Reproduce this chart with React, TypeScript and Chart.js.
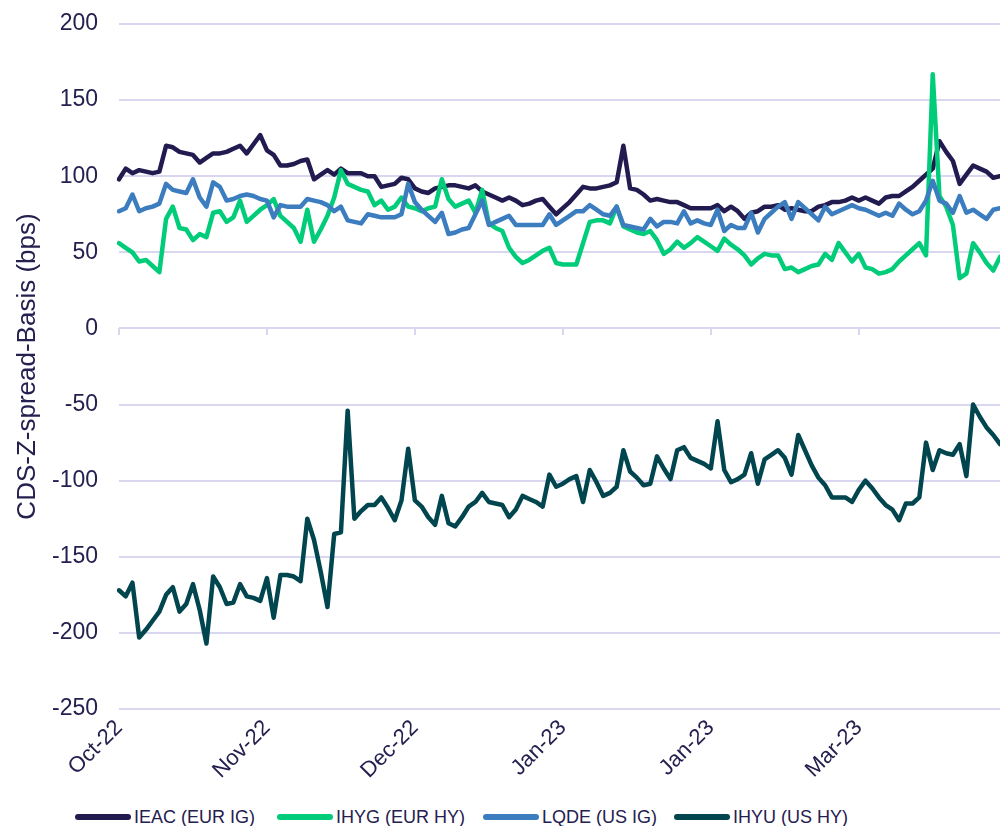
import React, { useEffect, useRef } from "react";
import { Chart, registerables } from "chart.js";

Chart.register(...registerables);

const tickLabels = ["Oct-22", "Nov-22", "Dec-22", "Jan-23", "Jan-23", "Mar-23"];
const tickEvery = 22;

const seriesNames = ["IEAC (EUR IG)", "IHYG (EUR HY)", "LQDE (US IG)", "IHYU (US HY)"];
const seriesColors = ["#211B50", "#00CC7A", "#3C7DC0", "#01454E"];

const ieac = [
  98, 105, 102, 104, 103, 102, 103, 120, 119, 116,
  115, 114, 109, 112, 115, 115, 116, 118, 120, 115,
  121, 127, 117, 114, 107, 107, 108, 110, 111, 98,
  101, 104, 101, 105, 102, 102, 102, 100, 100, 93,
  94, 95, 99, 98, 92, 90, 89, 92, 93, 94,
  94, 93, 92, 94, 90, 88, 86, 84, 86, 84,
  81, 82, 84, 85, 80, 75, 79, 83, 88, 93,
  92, 92, 93, 94, 96, 120, 92, 91, 88, 84,
  85, 84, 83, 83, 81, 79, 79, 79, 79, 81,
  77, 80, 77, 72, 76, 77, 80, 80, 81, 78,
  79, 78, 77, 77, 80, 81, 83, 83, 84, 86,
  84, 86, 84, 82, 86, 87, 87, 90, 93, 97,
  101, 105, 123, 116, 110, 95, 101, 107, 105, 103,
  99, 100,
];

const ihyg = [
  56, 53, 50, 44, 45, 41, 37, 72, 80, 66,
  65, 58, 62, 60, 76, 77, 70, 73, 84, 70,
  74, 78, 81, 85, 74, 70, 66, 57, 78, 57,
  65, 74, 86, 104, 95, 93, 91, 90, 81, 84,
  78, 80, 86, 80, 79, 77, 79, 80, 98, 85,
  80, 82, 84, 76, 91, 69, 66, 64, 53, 47,
  43, 45, 48, 51, 53, 43, 42, 42, 42, 56,
  70, 71, 71, 69, 80, 67, 65, 63, 62, 64,
  58, 49, 52, 57, 53, 56, 60, 57, 54, 51,
  59, 55, 52, 48, 42, 46, 49, 48, 48, 39,
  40, 37, 39, 41, 42, 49, 45, 56, 50, 44,
  49, 40, 39, 36, 37, 39, 44, 48, 52, 56,
  48, 167, 87, 80, 68, 33, 36, 56, 50, 43,
  38, 47,
];

const lqde = [
  77, 79, 88, 77, 79, 80, 82, 95, 91, 90,
  89, 98, 86, 80, 96, 93, 84, 85, 87, 88,
  87, 85, 84, 73, 81, 80, 80, 80, 85, 84,
  83, 81, 77, 80, 71, 70, 69, 75, 74, 73,
  73, 73, 75, 95, 83, 78, 74, 70, 76, 62,
  63, 65, 66, 75, 84, 68, 70, 72, 74, 68,
  68, 68, 68, 68, 75, 68, 71, 74, 77, 77,
  81, 78, 75, 74, 80, 68, 67, 66, 65, 72,
  67, 70, 70, 69, 77, 69, 71, 69, 68, 78,
  64, 68, 66, 66, 76, 63, 72, 76, 80, 83,
  72, 83, 79, 75, 71, 80, 75, 77, 79, 81,
  79, 78, 76, 74, 76, 74, 82, 78, 75, 77,
  84, 97, 84, 82, 76, 87, 76, 78, 75, 72,
  78, 79,
];

const ihyu = [
  -172, -176, -167, -203, -198, -192, -186, -175, -170, -186,
  -181, -168, -185, -207, -163, -170, -181, -180, -168, -176,
  -177, -179, -164, -190, -162, -162, -163, -166, -125, -139,
  -160, -183, -135, -134, -54, -125, -120, -116, -116, -111,
  -118, -126, -113, -79, -113, -117, -124, -129, -110, -128,
  -130, -124, -117, -114, -108, -114, -115, -116, -124, -119,
  -110, -112, -114, -117, -96, -104, -102, -99, -97, -114,
  -93, -101, -110, -108, -104, -80, -94, -98, -103, -102,
  -84, -92, -99, -80, -78, -85, -87, -89, -92, -61,
  -93, -101, -99, -96, -82, -102, -86, -83, -80, -85,
  -96, -70, -80, -90, -98, -103, -111, -111, -111, -114,
  -106, -100, -105, -111, -116, -119, -126, -115, -115, -111,
  -75, -93, -80, -82, -83, -76, -97, -50, -58, -65,
  -70, -76,
];

const seriesValues = [ieac, ihyg, lqde, ihyu];

const yMin = -250;
const yMax = 200;
const yStep = 50;

const TEXT = "#24204F";
const GRID = "#D9D6F0";
const FONT = "'Liberation Sans', Arial, Helvetica, sans-serif";

export default function App() {
  const ref = useRef<HTMLCanvasElement | null>(null);

  useEffect(() => {
    document.body.style.margin = "0";
    const canvas = ref.current;
    if (!canvas) return;
    const labels = ieac.map((_, i) =>
      i % tickEvery === 0 && tickLabels[i / tickEvery] ? tickLabels[i / tickEvery] : ""
    );
    const chart = new Chart(canvas, {
      type: "line",
      data: {
        labels,
        datasets: seriesValues.map((vals, k) => ({
          label: seriesNames[k],
          data: vals,
          borderColor: seriesColors[k],
          backgroundColor: seriesColors[k],
          borderWidth: 4.5,
          pointRadius: 0,
          tension: 0,
          borderJoinStyle: "round" as const,
          borderCapStyle: "round" as const,
          order: 4 - k,
        })),
      },
      options: {
        animation: false,
        responsive: false,
        maintainAspectRatio: false,
        layout: { padding: { top: 24, right: 0, bottom: 0, left: 0 } },
        plugins: {
          legend: { display: false },
          tooltip: { enabled: false },
        },
        scales: {
          x: {
            type: "category",
            offset: false,
            grid: { display: false },
            border: { display: false },
            ticks: {
              autoSkip: false,
              maxRotation: 45,
              minRotation: 45,
              padding: -2,
              color: TEXT,
              font: { family: FONT, size: 22 },
            },
            afterFit: (scale: any) => {
              scale.height = 81;
              scale.paddingRight = 0;
              scale.paddingLeft = 0;
            },
          },
          x2: {
            type: "category",
            offset: false,
            position: { y: 0 } as any,
            grid: {
              drawOnChartArea: false,
              drawTicks: true,
              tickLength: 7,
              lineWidth: 2,
              color: (c: any) => (c.index % tickEvery === 0 ? GRID : "rgba(0,0,0,0)"),
            },
            border: { display: false },
            ticks: { display: false, autoSkip: false },
            afterFit: (scale: any) => {
              scale.paddingRight = 0;
              scale.paddingLeft = 0;
            },
          },
          y: {
            min: yMin,
            max: yMax,
            grid: { color: GRID, lineWidth: 2, drawTicks: false },
            border: { display: false },
            ticks: {
              stepSize: yStep,
              padding: 21,
              color: TEXT,
              font: { family: FONT, size: 23 },
            },
            title: {
              display: true,
              text: "CDS-Z-spread-Basis (bps)",
              color: TEXT,
              font: { family: FONT, size: 26 },
              padding: { top: 12, bottom: 0 },
            },
            afterFit: (scale: any) => {
              scale.width = 119;
              scale.paddingTop = 0;
              scale.paddingBottom = 0;
            },
          },
        },
      },
    });
    return () => chart.destroy();
  }, []);

  const legendLeft = [75, 277, 483, 674];

  return (
    <div style={{ position: "absolute", left: 0, top: 0, width: 1000, height: 826, background: "#fff", overflow: "hidden" }}>
      <canvas ref={ref} width={1000} height={790} style={{ display: "block", width: 1000, height: 790 }} />
      {seriesNames.map((name, k) => (
        <div
          key={name}
          style={{
            position: "absolute",
            left: legendLeft[k],
            top: 805,
            height: 24,
            display: "flex",
            alignItems: "center",
            fontFamily: FONT,
            fontSize: 18,
            color: TEXT,
            whiteSpace: "nowrap",
          }}
        >
          <span
            style={{
              display: "inline-block",
              width: 56,
              height: 6,
              borderRadius: 3,
              background: seriesColors[k],
              marginRight: 3,
            }}
          />
          <span>{name}</span>
        </div>
      ))}
    </div>
  );
}
